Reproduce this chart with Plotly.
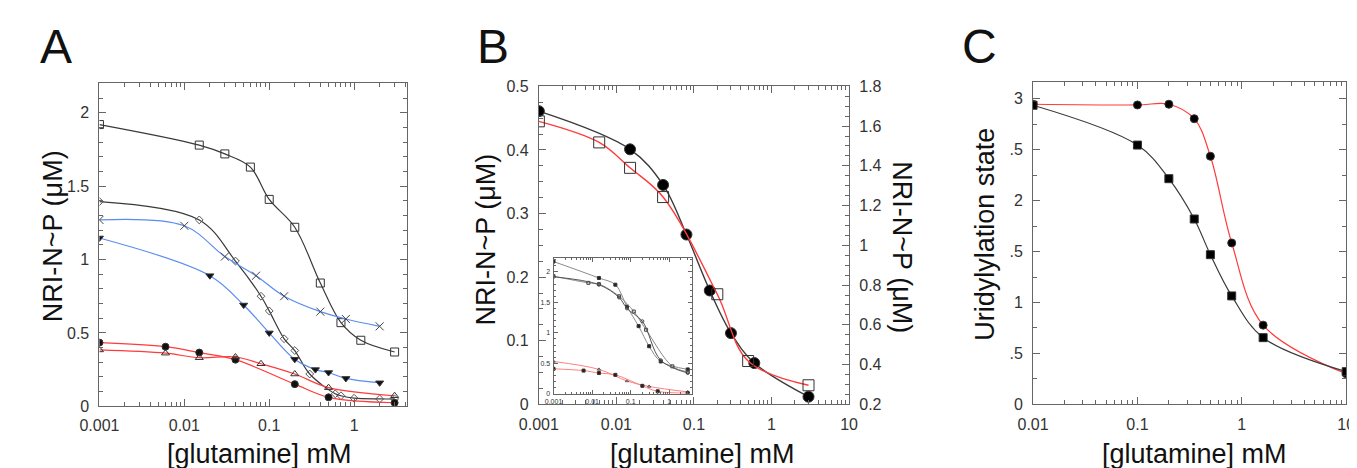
import plotly.graph_objects as go

# ---------------- Panel A data ----------------
a_sq_x = [0.001, 0.015, 0.03, 0.06, 0.1, 0.2, 0.4, 0.7, 1.2, 3.0]
a_sq_y = [1.92, 1.78, 1.72, 1.63, 1.41, 1.22, 0.84, 0.57, 0.45, 0.37]

a_di_x = [0.001, 0.015, 0.04, 0.08, 0.1, 0.15, 0.2, 0.3, 0.6, 0.7, 1.0, 2.0, 3.0]
a_di_y = [1.395, 1.27, 0.99, 0.75, 0.65, 0.46, 0.38, 0.22, 0.085, 0.072, 0.055, 0.05, 0.05]

a_x_x = [0.001, 0.01, 0.03, 0.07, 0.15, 0.4, 0.8, 2.0]
a_x_y = [1.27, 1.23, 1.02, 0.89, 0.75, 0.645, 0.595, 0.545]

a_td_x = [0.001, 0.02, 0.05, 0.1, 0.2, 0.35, 0.5, 0.8, 2.0]
a_td_y = [1.147, 0.89, 0.69, 0.50, 0.32, 0.25, 0.23, 0.19, 0.16]

a_rc_x = [0.001, 0.006, 0.015, 0.04, 0.2, 0.5, 3.0]
a_rc_y = [0.434, 0.406, 0.366, 0.318, 0.151, 0.061, 0.024]

a_rt_x = [0.001, 0.006, 0.015, 0.04, 0.08, 0.2, 0.5, 3.0]
a_rt_y = [0.384, 0.362, 0.331, 0.336, 0.29, 0.22, 0.127, 0.072]

# ---------------- Panel B data ----------------
b_ci_x = [0.001, 0.015, 0.04, 0.08, 0.16, 0.3, 0.6, 3.0]
b_ci_y = [0.461, 0.401, 0.345, 0.267, 0.179, 0.112, 0.065, 0.012]
b_sq_x = [0.001, 0.006, 0.015, 0.04, 0.2, 0.5, 3.0]
b_sq_y = [1.624, 1.518, 1.39, 1.243, 0.754, 0.418, 0.296]   # right axis

# inset
i_g1_x = [0.001, 0.015, 0.04, 0.08, 0.16, 0.3, 0.6, 3.0]
i_g1_y = [2.17, 1.90, 1.79, 1.43, 1.11, 0.78, 0.53, 0.40]
i_g2_x = [0.001, 0.008, 0.015, 0.05, 0.12, 0.25, 1.2, 3.0]
i_g2_y = [1.93, 1.82, 1.80, 1.60, 1.35, 1.05, 0.45, 0.36]
i_g3_x = [0.001, 0.015, 0.05, 0.08, 0.2, 0.6, 3.0]
i_g3_y = [1.92, 1.79, 1.58, 1.40, 1.19, 0.55, 0.34]
i_r1_x = [0.001, 0.015, 0.08, 0.3, 3.0]
i_r1_y = [0.53, 0.40, 0.21, 0.12, 0.03]
i_r2_x = [0.001, 0.006, 0.015, 0.04, 0.2, 0.5, 3.0]
i_r2_y = [0.41, 0.38, 0.34, 0.31, 0.13, 0.04, 0.01]

# ---------------- Panel C data ----------------
c_ci_x = [0.01, 0.1, 0.2, 0.35, 0.5, 0.8, 1.6, 10]
c_ci_y = [2.947, 2.94, 2.947, 2.805, 2.436, 1.585, 0.778, 0.30]
c_sq_x = [0.01, 0.1, 0.2, 0.35, 0.5, 0.8, 1.6, 10]
c_sq_y = [2.937, 2.546, 2.216, 1.82, 1.47, 1.065, 0.655, 0.321]

# tick labels
a_xtick_vals = [0.001, 0.01, 0.1, 1]
a_xtick_text = ["0.001", "0.01", "0.1", "1"]
b_xtick_vals = [0.001, 0.01, 0.1, 1, 10]
b_xtick_text = ["0.001", "0.01", "0.1", "1", "10"]
c_xtick_vals = [0.01, 0.1, 1, 10]
c_xtick_text = ["0.01", "0.1", "1", "10"]
a_ytick_vals = [0, 0.5, 1, 1.5, 2]
a_ytick_text = ["0", "0.5", "1", "1.5", "2"]
b_ytick_vals = [0, 0.1, 0.2, 0.3, 0.4, 0.5]
b_ytick_text = ["0", "0.1", "0.2", "0.3", "0.4", "0.5"]
b2_ytick_vals = [0.2, 0.4, 0.6, 0.8, 1.0, 1.2, 1.4, 1.6, 1.8]
b2_ytick_text = ["0.2", "0.4", "0.6", "0.8", "1", "1.2", "1.4", "1.6", "1.8"]
c_ytick_vals = [0, 0.5, 1, 1.5, 2, 2.5, 3]
c_ytick_text = ["0", ".5", "1", ".5", "2", ".5", "3"]
i_ytick_vals = [0, 0.5, 1, 1.5, 2]
i_ytick_text = ["0", "0.5", "1", "1.5", "2"]

BLACK = "#3a3a3a"
BLUE = "#5a8cf0"
RED = "#ff3b3b"
FONT = "Liberation Sans, Arial, sans-serif"
W, H = 1357, 468

fig = go.Figure()

def add(x, y, color, symbol, msize, mcolor, xa, ya, lw=1.2, mline=None):
    fig.add_trace(go.Scatter(
        x=x, y=y, mode="lines+markers", xaxis=xa, yaxis=ya,
        line=dict(color=color, width=lw, shape="spline", smoothing=1.0),
        marker=dict(symbol=symbol, size=msize, color=mcolor,
                    line=dict(color=mline or "#333333", width=1)),
        showlegend=False, hoverinfo="skip"))

# Panel A
add(a_sq_x, a_sq_y, BLACK, "square-open", 8, "#333333", "x", "y")
add(a_di_x, a_di_y, BLACK, "diamond-open", 6, "#555555", "x", "y")
add(a_x_x, a_x_y, BLUE, "x-thin-open", 8, "#444444", "x", "y")
add(a_td_x, a_td_y, BLUE, "triangle-down", 7, "#111111", "x", "y")
add(a_rc_x, a_rc_y, RED, "circle", 7, "#111111", "x", "y")
add(a_rt_x, a_rt_y, RED, "triangle-up-open", 7, "#333333", "x", "y")

# Panel B
add(b_ci_x, b_ci_y, BLACK, "circle", 11, "#000000", "x2", "y2", lw=1.4)
add(b_sq_x, b_sq_y, RED, "square-open", 11, "#333333", "x2", "y3", lw=1.4)

# inset
GRAY = "#8a8a8a"
add(i_g1_x, i_g1_y, GRAY, "square", 3, "#222222", "x4", "y5", lw=1)
add(i_g2_x, i_g2_y, GRAY, "square-open", 3, "#444444", "x4", "y5", lw=1)
add(i_g3_x, i_g3_y, "#555555", "circle-open", 3, "#444444", "x4", "y5", lw=1)
add(i_r1_x, i_r1_y, "#ff8080", "triangle-up-open", 3, "#555555", "x4", "y5", lw=1)
add(i_r2_x, i_r2_y, "#ff8080", "square", 3, "#222222", "x4", "y5", lw=1)

# Panel C
add(c_ci_x, c_ci_y, RED, "circle", 8, "#000000", "x3", "y4")
add(c_sq_x, c_sq_y, BLACK, "square", 8, "#000000", "x3", "y4")

def minor_log(lo, hi):
    vals = []
    for e in range(lo, hi):
        for m in range(2, 10):
            vals.append(m * 10.0 ** e)
    return vals

def px(x):
    return x / W

def py(y):
    return 1 - y / H

LINE = "#666666"
TCOL = "#333333"

def xaxis(domain, rng, tv, tt, anchor, minors, tlen=7, mlen=4, fsize=16, standoff=5):
    return dict(domain=domain, type="log", range=rng, anchor=anchor,
                tickmode="array", tickvals=tv, ticktext=tt,
                ticks="inside", ticklen=tlen, tickcolor=LINE, tickwidth=1,
                ticklabelstandoff=standoff,
                minor=dict(tickmode="array", tickvals=minors, ticks="inside",
                           ticklen=mlen, tickcolor=LINE, showgrid=False),
                showline=True, linecolor=LINE, linewidth=1, mirror="ticks",
                showgrid=False, zeroline=False,
                tickfont=dict(family=FONT, size=fsize, color=TCOL))

def yaxis(domain, rng, tv, tt, anchor, minor_dtick, mirror="ticks", tlen=7,
          mlen=4, fsize=16, side="left", standoff=6):
    return dict(domain=domain, range=rng, anchor=anchor, side=side,
                tickmode="array", tickvals=tv, ticktext=tt,
                ticks="inside", ticklen=tlen, tickcolor=LINE, tickwidth=1,
                ticklabelstandoff=standoff,
                minor=dict(dtick=minor_dtick, tick0=0, ticks="inside",
                           ticklen=mlen, tickcolor=LINE, showgrid=False),
                showline=True, linecolor=LINE, linewidth=1, mirror=mirror,
                showgrid=False, zeroline=False,
                tickfont=dict(family=FONT, size=fsize, color=TCOL))

fig.update_layout(
    width=W, height=H, margin=dict(l=0, r=0, t=0, b=0),
    paper_bgcolor="white", plot_bgcolor="white",
    xaxis=xaxis([px(73), px(387)], [-3, 0.62], a_xtick_vals, a_xtick_text, "y",
                minor_log(-3, 1)),
    yaxis=yaxis([py(405), py(70)], [0, 2.2], a_ytick_vals, a_ytick_text, "x", 0.1),
    xaxis2=xaxis([px(522), px(839)], [-3, 1], b_xtick_vals, b_xtick_text, "y2",
                 minor_log(-3, 1)),
    yaxis2=yaxis([py(403), py(73)], [0, 0.5], b_ytick_vals, b_ytick_text, "x2",
                 0.025, mirror=False),
    yaxis3=dict(overlaying="y2", side="right", anchor="x2", range=[0.2, 1.8],
                tickmode="array", tickvals=b2_ytick_vals, ticktext=b2_ytick_text,
                ticks="inside", ticklen=7, tickcolor=LINE, ticklabelstandoff=6,
                minor=dict(dtick=0.05, tick0=0, ticks="inside", ticklen=4,
                           tickcolor=LINE, showgrid=False),
                showline=True, linecolor=LINE, linewidth=1,
                showgrid=False, zeroline=False,
                tickfont=dict(family=FONT, size=16, color=TCOL)),
    xaxis3=xaxis([px(1027), px(1347)], [-2, 1], c_xtick_vals, c_xtick_text, "y4",
                 minor_log(-2, 1)),
    yaxis4=yaxis([py(403), py(68)], [0, 3.17], c_ytick_vals, c_ytick_text, "x3", 0.25),
    xaxis4=xaxis([px(537), px(679)], [-3, 0.6], a_xtick_vals, a_xtick_text, "y5",
                 minor_log(-3, 1), tlen=4, mlen=2, fsize=7, standoff=1),
    yaxis5=yaxis([py(392), py(251)], [0, 2.23], i_ytick_vals, i_ytick_text, "x4",
                 0.1, tlen=4, mlen=2, fsize=7, standoff=1),
)

ann = []
def text(x, y, s, size, angle=0):
    ann.append(dict(x=px(x), y=py(y), xref="paper", yref="paper", text=s,
                    showarrow=False, textangle=angle, xanchor="center",
                    yanchor="middle", font=dict(family=FONT, size=size, color="#111111")))

for cx in (237, 689, 1192):
    text(cx, 455, "[glutamine] mM", 27)
text(25, 228, "NRI-N~P (\u03bcM)", 27, -90)
text(468, 232, "NRI-N~P (\u03bcM)", 27, -90)
text(893, 240, "NRI-N~P (\u03bcM)", 27, 90)
text(978, 227, "Uridylylation state", 27, -90)
text(29, 32, "A", 48)
text(475, 32, "B", 48)
text(972, 32, "C", 48)
fig.update_layout(annotations=ann)

fig.write_html("out.html")
